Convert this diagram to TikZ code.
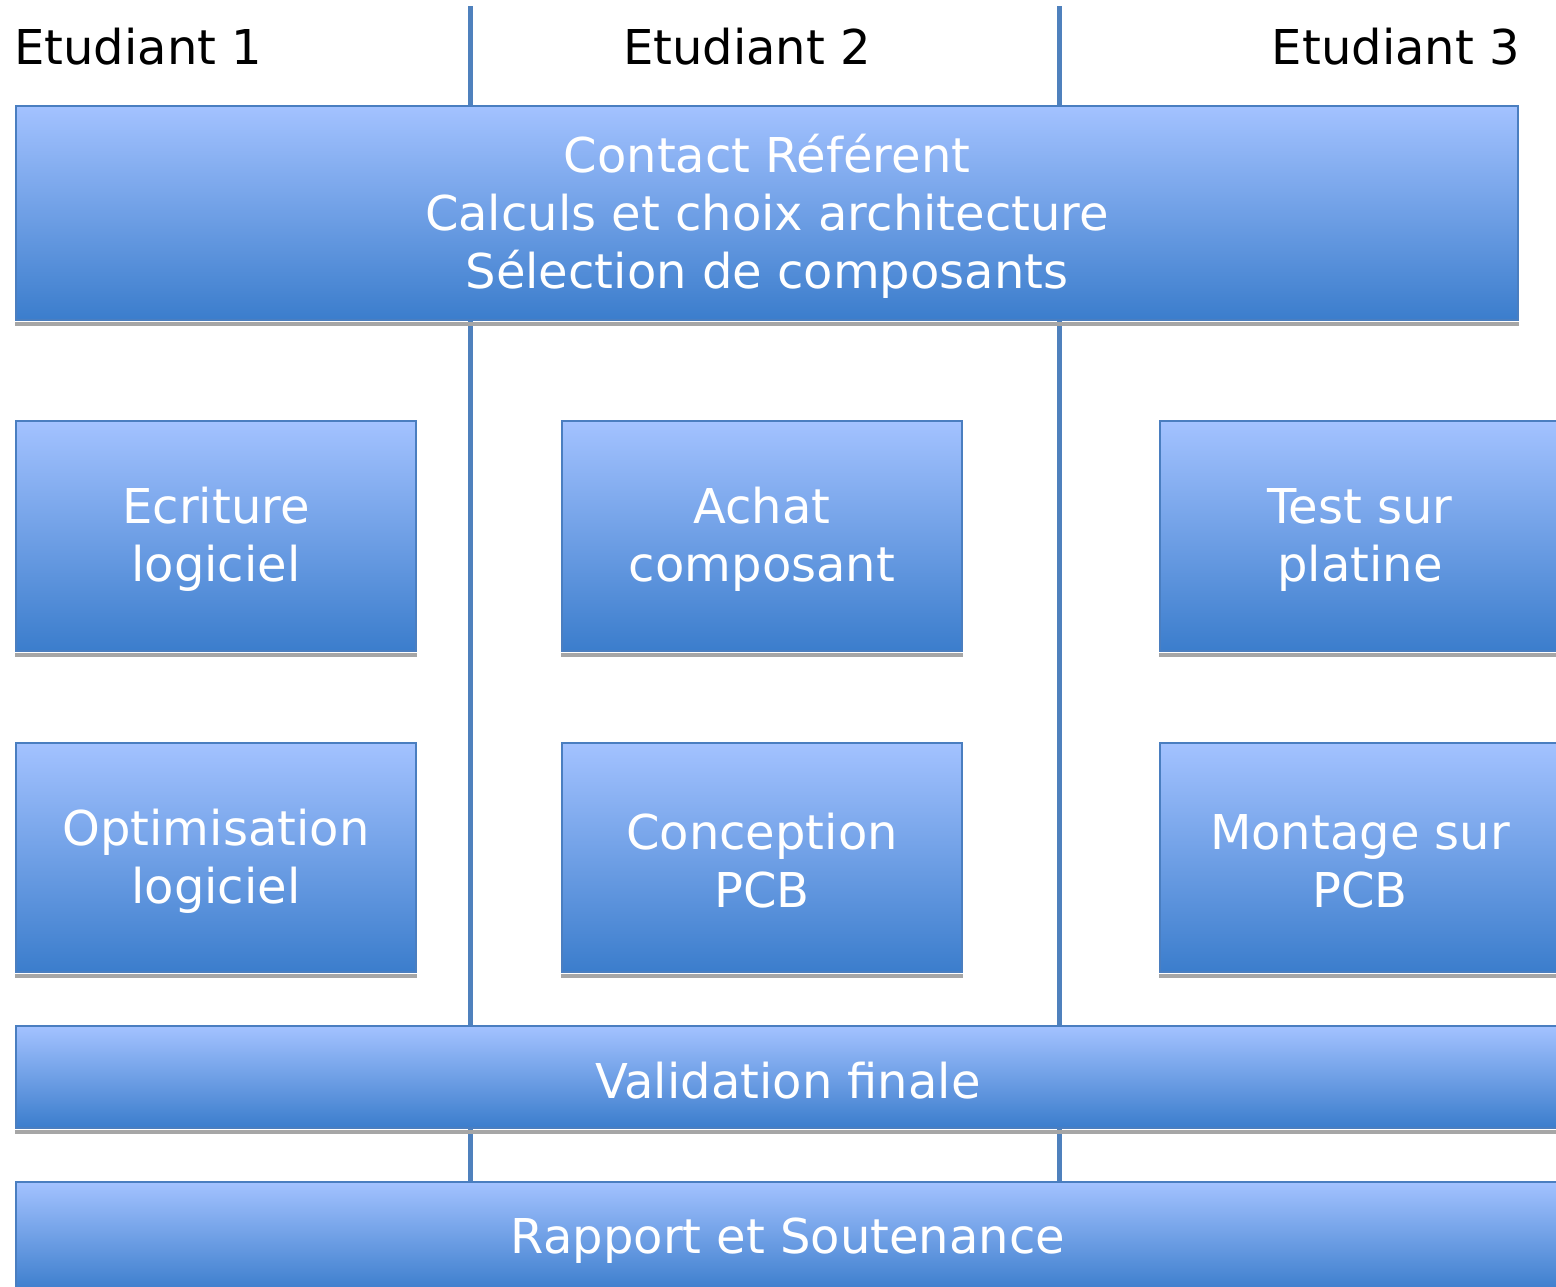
\documentclass[tikz,border=0pt]{standalone}
\usepackage{fontspec}
\setmainfont{DejaVu Sans}
\definecolor{topc}{HTML}{A3C2FF}
\definecolor{botc}{HTML}{3B7DCC}
\definecolor{edgec}{HTML}{4A7EC0}
\definecolor{lanec}{HTML}{4F81BD}
\definecolor{shadc}{HTML}{A6A6A6}
\begin{document}
\begin{tikzpicture}[x=1pt,y=-1pt,
  box/.style={draw=edgec, line width=2pt, top color=topc, bottom color=botc,
    inner sep=0pt},
  boxtext/.style={text=white, align=center, inner sep=0pt, yshift=-3.5pt,
    font=\fontsize{48}{58}\selectfont},
  lane/.style={draw=lanec, line width=5pt},
  shade line/.style={draw=shadc, line width=4pt},
  head/.style={font=\fontsize{48}{58}\selectfont, text=black, inner sep=0pt}]
\useasboundingbox (0,0) rectangle (1556,1286);
\clip (0,0) rectangle (1556,1286);
\fill[white] (0,0) rectangle (1556,1286);
% lanes
\coordinate (l1t) at (470,6);
\coordinate (l1b) at (470,1290);
\coordinate (l2t) at (1059,6);
\coordinate (l2b) at (1059,1290);
\draw[lane] (l1t) -- (l1b);
\draw[lane] (l2t) -- (l2b);
% headers
\node[head, anchor=west] (h1) at (14,47) {Etudiant 1};
\node[head] (h2) at (747,47) {Etudiant 2};
\node[head, anchor=east] (h3) at (1520,47) {Etudiant 3};
% boxes
\node[box, minimum width=1502pt, minimum height=214pt,
  label={[boxtext]center:Contact Référent\\Calculs et choix architecture\\Sélection de composants}] (top) at (767,213) {};
\node[box, minimum width=400pt, minimum height=230pt,
  label={[boxtext]center:Ecriture\\logiciel}] (ecr) at (216,536) {};
\node[box, minimum width=400pt, minimum height=230pt,
  label={[boxtext]center:Achat\\composant}] (ach) at (762,536) {};
\node[box, minimum width=400pt, minimum height=230pt,
  label={[boxtext]center:Test sur\\platine}] (tst) at (1360,536) {};
\node[box, minimum width=400pt, minimum height=229pt,
  label={[boxtext]center:Optimisation\\logiciel}] (opt) at (216,857.5) {};
\node[box, minimum width=400pt, minimum height=229pt,
  label={[boxtext]center:Conception\\PCB}] (con) at (762,857.5) {};
\node[box, minimum width=400pt, minimum height=229pt,
  label={[boxtext]center:Montage sur\\PCB}] (mon) at (1360,857.5) {};
\node[box, minimum width=1544pt, minimum height=102pt,
  label={[boxtext]center:Validation finale}] (val) at (788,1077) {};
\node[box, minimum width=1544pt, minimum height=110pt,
  label={[boxtext]center:Rapport et Soutenance}] (rap) at (788,1237) {};
% bottom shadows
\foreach \n in {top,ecr,ach,tst,opt,con,mon,val}
  \draw[shade line] ([yshift=-3pt]\n.south west) -- ([yshift=-3pt]\n.south east);
\end{tikzpicture}
\end{document}
